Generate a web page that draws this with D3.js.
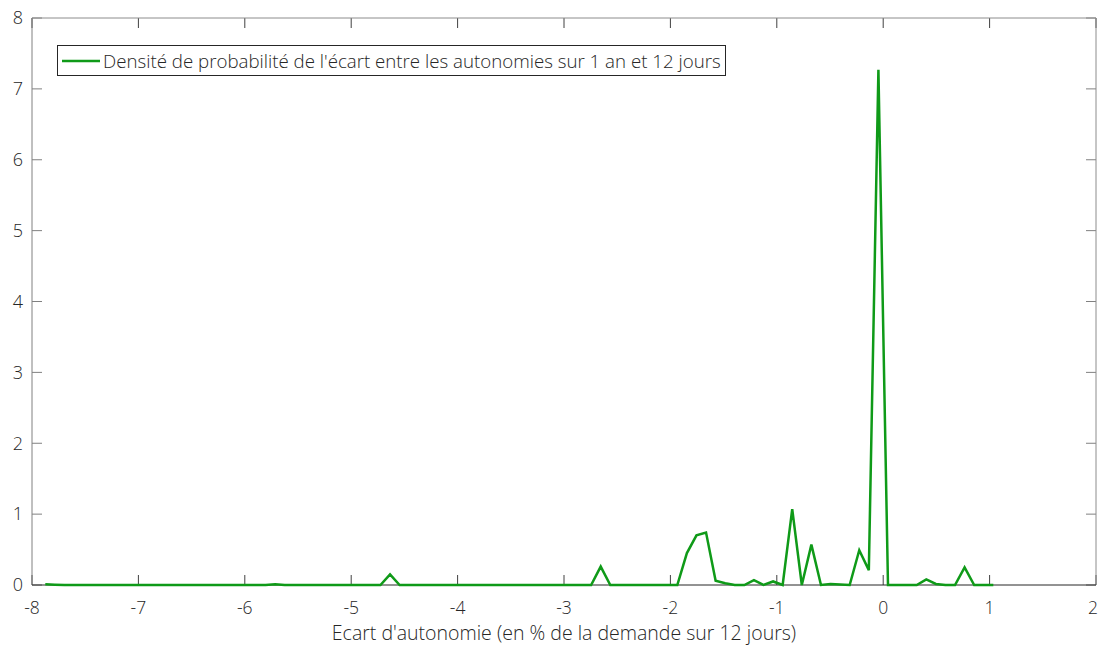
<!DOCTYPE html>
<html><head><meta charset="utf-8">
<script src="https://cdn.jsdelivr.net/npm/d3@7"></script>
<style>
body{margin:0;background:#fff;}
text{font-family:"Open Sans","Noto Sans",sans-serif;font-weight:300;fill:#262626;}
</style></head>
<body><svg id="chart" width="1099" height="646"></svg>
<script>
const xValues = [-7.875,-7.785,-7.695,-7.605,-7.515,-7.425,-7.335,-7.245,-7.155,-7.065,
-6.975,-6.885,-6.795,-6.705,-6.615,-6.525,-6.435,-6.345,-6.255,-6.165,
-6.075,-5.985,-5.895,-5.805,-5.715,-5.625,-5.535,-5.445,-5.355,-5.265,
-5.175,-5.085,-4.995,-4.905,-4.815,-4.725,-4.635,-4.545,-4.455,-4.365,
-4.275,-4.185,-4.095,-4.005,-3.915,-3.825,-3.735,-3.645,-3.555,-3.465,
-3.375,-3.285,-3.195,-3.105,-3.015,-2.925,-2.835,-2.745,-2.655,-2.565,
-2.475,-2.385,-2.295,-2.205,-2.115,-2.025,-1.935,-1.845,-1.755,-1.665,
-1.575,-1.485,-1.395,-1.305,-1.215,-1.125,-1.035,-0.945,-0.855,-0.765,
-0.675,-0.585,-0.495,-0.405,-0.315,-0.225,-0.135,-0.045,0.045,0.135,
0.225,0.315,0.405,0.495,0.585,0.675,0.765,0.855,0.945,1.035];
const densityValues = [0.01,0.005,0,0,0,0,0,0,0,0,
0,0,0,0,0,0,0,0,0,0,
0,0,0,0,0.01,0,0,0,0,0,
0,0,0,0,0,0,0.15,0,0,0,
0,0,0,0,0,0,0,0,0,0,
0,0,0,0,0,0,0,0,0.26,0,
0,0,0,0,0,0,0,0.45,0.70,0.74,
0.06,0.025,0,0,0.07,0,0.05,0,1.07,0,
0.57,0,0.015,0.008,0,0.49,0.21,7.27,0,0,
0,0,0.08,0.015,0,0,0.25,0,0,0];
const xTicks = [-8,-7,-6,-5,-4,-3,-2,-1,0,1,2];
const yTicks = [0,1,2,3,4,5,6,7,8];
const seriesLabel = "Densité de probabilité de l'écart entre les autonomies sur 1 an et 12 jours";
const xTitle = "Ecart d'autonomie (en % de la demande sur 12 jours)";

const svg = d3.select("#chart");
const L = 32, T = 18, R = 1096, B = 585;
const x = d3.scaleLinear().domain([-8, 2]).range([L, R]);
const y = d3.scaleLinear().domain([0, 8]).range([B, T]);
const tickLen = 10;

const g = svg.append("g");
xTicks.forEach((t, i) => {
  g.append("line").attr("x1", x(t)).attr("x2", x(t)).attr("y1", B).attr("y2", B - tickLen)
    .attr("stroke", "#404040").attr("stroke-width", 1);
  g.append("line").attr("x1", x(t)).attr("x2", x(t)).attr("y1", T).attr("y2", T + tickLen)
    .attr("stroke", "#404040").attr("stroke-width", 1);
  const last = i === xTicks.length - 1;
  svg.append("text").attr("x", last ? 1098 : x(t)).attr("y", 614)
    .attr("text-anchor", last ? "end" : "middle")
    .attr("font-size", 17.5).text(String(t));
});
yTicks.forEach(t => {
  g.append("line").attr("x1", L).attr("x2", L + tickLen).attr("y1", y(t)).attr("y2", y(t))
    .attr("stroke", "#808080").attr("stroke-width", 1);
  g.append("line").attr("x1", R).attr("x2", R - tickLen).attr("y1", y(t)).attr("y2", y(t))
    .attr("stroke", "#808080").attr("stroke-width", 1);
  svg.append("text").attr("x", 23).attr("y", y(t)).attr("dy", "0.35em").attr("text-anchor", "end")
    .attr("font-size", 18).text(t);
});

svg.append("line").attr("x1", L).attr("x2", R).attr("y1", T).attr("y2", T).attr("stroke", "#8c8c8c");
svg.append("line").attr("x1", R).attr("x2", R).attr("y1", T).attr("y2", B).attr("stroke", "#8c8c8c");
svg.append("line").attr("x1", L).attr("x2", L).attr("y1", T).attr("y2", B).attr("stroke", "#808080");
svg.append("line").attr("x1", L).attr("x2", R).attr("y1", B).attr("y2", B).attr("stroke", "#262626");

const data = xValues.map((v, i) => [v, densityValues[i]]);
svg.append("path").datum(data)
  .attr("fill", "none").attr("stroke", "#0f9a18").attr("stroke-width", 2.5)
  .attr("d", d3.line().x(d => x(d[0])).y(d => y(d[1])));

svg.append("text").attr("x", 564).attr("y", 640).attr("text-anchor", "middle")
  .attr("font-size", 19.5).text(xTitle);

const lg = svg.append("g");
lg.append("rect").attr("x", 57.5).attr("y", 45.5).attr("width", 668).attr("height", 30)
  .attr("fill", "#fff").attr("stroke", "#262626").attr("stroke-width", 1);
lg.append("line").attr("x1", 62).attr("x2", 100).attr("y1", 61).attr("y2", 61)
  .attr("stroke", "#0f9a18").attr("stroke-width", 2.5);
lg.append("text").attr("x", 103).attr("y", 61).attr("dy", "0.35em").attr("font-size", 18.7).text(seriesLabel);
</script></body></html>
